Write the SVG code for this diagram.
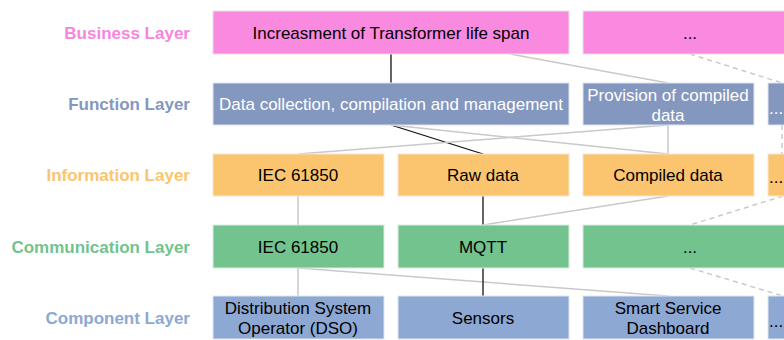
<svg xmlns="http://www.w3.org/2000/svg" width="784" height="340" viewBox="0 0 784 340">
<style>
.lbl{font-family:"Liberation Sans",Arial,sans-serif;font-size:17px;font-weight:bold;text-anchor:end;dominant-baseline:central}
.t{font-family:"Liberation Sans",Arial,sans-serif;font-size:17px;text-anchor:middle;dominant-baseline:central;fill:#000}
.e{text-anchor:start}
.tw{fill:#fff}
.bus{fill:#FA89E0;stroke:#e9e0e6;stroke-width:1}
.fun{fill:#8497BF;stroke:#dfe3ec;stroke-width:1}
.inf{fill:#FBC570;stroke:#f3e6cf;stroke-width:1}
.com{fill:#72C38E;stroke:#dcebe1;stroke-width:1}
.cmp{fill:#8DA8D3;stroke:#e0e6f0;stroke-width:1}
.g{stroke:#C9C9C9;stroke-width:1.5;fill:none}
.d{stroke:#C9C9C9;stroke-width:1.5;fill:none;stroke-dasharray:5 4}
.k{stroke:#111;stroke-width:1.3;fill:none}
</style>
<rect width="784" height="340" fill="#fff"/>
<g id="layer-labels">
<text class="lbl" x="190" y="33" fill="#F784DD">Business Layer</text>
<text class="lbl" x="190" y="104" fill="#8497BF">Function Layer</text>
<text class="lbl" x="190" y="175" fill="#FBC570">Information Layer</text>
<text class="lbl" x="190" y="247" fill="#72C38E">Communication Layer</text>
<text class="lbl" x="190" y="318" fill="#8DA8D3">Component Layer</text>
</g>
<g id="connectors">
<line class="k" x1="391" y1="54" x2="391" y2="83"/>
<line class="g" x1="510" y1="54" x2="668" y2="83"/>
<line class="d" x1="690" y1="54" x2="782" y2="83"/>
<line class="k" x1="391" y1="125" x2="483" y2="154"/>
<line class="g" x1="391" y1="125" x2="668" y2="154"/>
<line class="g" x1="668" y1="125" x2="298" y2="154"/>
<line class="g" x1="668" y1="125" x2="668" y2="154"/>
<line class="d" x1="782" y1="125" x2="782" y2="154"/>
<line class="g" x1="298" y1="196" x2="298" y2="225"/>
<line class="k" x1="483" y1="196" x2="483" y2="225"/>
<line class="g" x1="668" y1="196" x2="483" y2="225"/>
<line class="d" x1="783" y1="196" x2="690" y2="225"/>
<line class="g" x1="298" y1="268" x2="298" y2="296"/>
<line class="g" x1="298" y1="268" x2="668" y2="296"/>
<line class="k" x1="483" y1="268" x2="483" y2="296"/>
<line class="d" x1="690" y1="268" x2="783" y2="296"/>
</g>
<g id="b1"><rect class="bus" x="213" y="11" width="356" height="43"/><text class="t" x="391" y="33">Increasment of Transformer life span</text></g>
<g id="b2"><rect class="bus" x="583" y="11" width="214" height="43"/><text class="t" x="690" y="33">...</text></g>
<g id="f1"><rect class="fun" x="213" y="83" width="356" height="42"/><text class="t tw" x="391" y="104">Data collection, compilation and management</text></g>
<g id="f2"><rect class="fun" x="583" y="83" width="171" height="42"/><text class="t tw" x="668" y="95">Provision of compiled</text><text class="t tw" x="668" y="115">data</text></g>
<g id="f3"><rect class="fun" x="768" y="83" width="40" height="42"/><text class="t tw e" x="769" y="108">...</text></g>
<g id="i1"><rect class="inf" x="213" y="154" width="171" height="42"/><text class="t" x="298" y="175">IEC 61850</text></g>
<g id="i2"><rect class="inf" x="398" y="154" width="171" height="42"/><text class="t" x="483" y="175">Raw data</text></g>
<g id="i3"><rect class="inf" x="583" y="154" width="171" height="42"/><text class="t" x="668" y="175">Compiled data</text></g>
<g id="i4"><rect class="inf" x="768" y="154" width="40" height="42"/><text class="t e" x="769" y="177">...</text></g>
<g id="c1"><rect class="com" x="213" y="225" width="171" height="43"/><text class="t" x="298" y="247">IEC 61850</text></g>
<g id="c2"><rect class="com" x="398" y="225" width="171" height="43"/><text class="t" x="483" y="247">MQTT</text></g>
<g id="c3"><rect class="com" x="583" y="225" width="214" height="43"/><text class="t" x="690" y="247">...</text></g>
<g id="p1"><rect class="cmp" x="213" y="296" width="171" height="43"/><text class="t" x="298" y="308">Distribution System</text><text class="t" x="298" y="328">Operator (DSO)</text></g>
<g id="p2"><rect class="cmp" x="398" y="296" width="171" height="43"/><text class="t" x="483" y="318">Sensors</text></g>
<g id="p3"><rect class="cmp" x="583" y="296" width="171" height="43"/><text class="t" x="668" y="308">Smart Service</text><text class="t" x="668" y="328">Dashboard</text></g>
<g id="p4"><rect class="cmp" x="768" y="296" width="40" height="43"/><text class="t e" x="769" y="321">...</text></g>
</svg>
